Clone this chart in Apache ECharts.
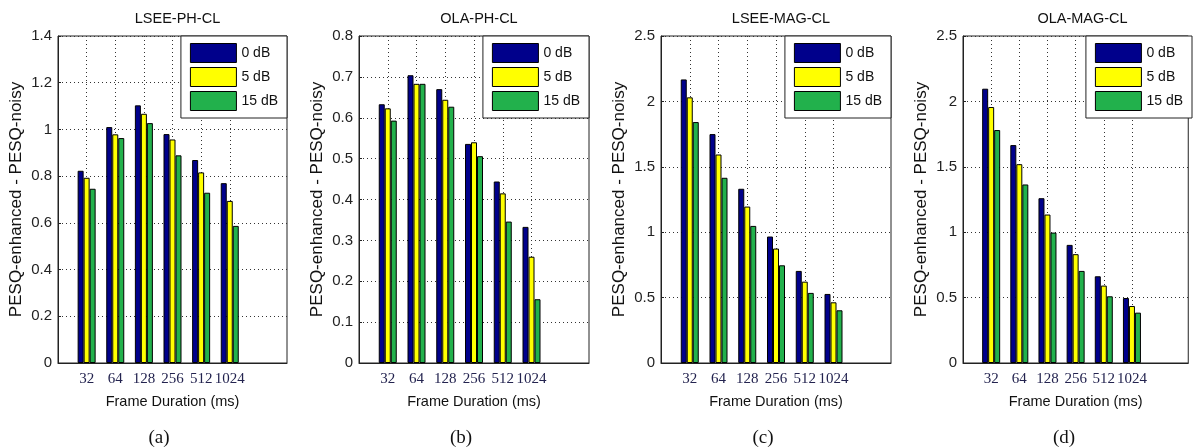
<!DOCTYPE html>
<html>
<head>
<meta charset="utf-8">
<script src="https://cdn.jsdelivr.net/npm/echarts@6/dist/echarts.min.js"></script>
<style>
  html, body { margin: 0; padding: 0; background: #fff; }
  #chart { width: 1195px; height: 447px; }
</style>
</head>
<body>
<div id="chart"></div>
<script>
// frame durations (ms) and noise levels
const frameLabels = ['32', '64', '128', '256', '512', '1024'];
const noiseNames = ['0 dB', '5 dB', '15 dB'];
const noiseColors = ['#00008b', '#ffff00', '#22b14c'];

// (a) LSEE-PH-CL
const lseePh0 = [0.823, 1.010, 1.103, 0.980, 0.869, 0.770];
const lseePh5 = [0.793, 0.979, 1.067, 0.957, 0.816, 0.694];
const lseePh15 = [0.746, 0.963, 1.027, 0.889, 0.729, 0.587];

// (b) OLA-PH-CL
const olaPh0 = [0.633, 0.704, 0.670, 0.536, 0.444, 0.333];
const olaPh5 = [0.623, 0.683, 0.644, 0.540, 0.415, 0.260];
const olaPh15 = [0.593, 0.683, 0.627, 0.506, 0.346, 0.156];

// (c) LSEE-MAG-CL
const lseeMag0 = [2.168, 1.750, 1.332, 0.967, 0.704, 0.528];
const lseeMag5 = [2.031, 1.594, 1.196, 0.875, 0.622, 0.464];
const lseeMag15 = [1.842, 1.416, 1.048, 0.747, 0.536, 0.403];

// (d) OLA-MAG-CL
const olaMag0 = [2.097, 1.666, 1.260, 0.903, 0.663, 0.497];
const olaMag5 = [1.957, 1.520, 1.135, 0.832, 0.592, 0.436];
const olaMag15 = [1.781, 1.365, 0.997, 0.704, 0.510, 0.385];

const panels = [
  { title: 'LSEE-PH-CL', tag: '(a)', left: 58, width: 229, tagX: 154, max: 1.4, interval: 0.2, data: [lseePh0, lseePh5, lseePh15] },
  { title: 'OLA-PH-CL', tag: '(b)', left: 359, width: 230, tagX: 456, max: 0.8, interval: 0.1, data: [olaPh0, olaPh5, olaPh15] },
  { title: 'LSEE-MAG-CL', tag: '(c)', left: 661, width: 230, tagX: 758, max: 2.5, interval: 0.5, data: [lseeMag0, lseeMag5, lseeMag15] },
  { title: 'OLA-MAG-CL', tag: '(d)', left: 963, width: 229, tagX: 1059, max: 2.5, interval: 0.5, data: [olaMag0, olaMag5, olaMag15] }
];

const W = 1195;
const gridTop = 36;
const gridBottom = 84;
// the x range runs 0..8 with the groups sitting at 1..6
const axisCats = [''].concat(frameLabels, [' ', '  ']);
const pad = arr => ['-'].concat(arr, ['-', '-']);
const dotted = [1, 3];

const chart = echarts.init(document.getElementById('chart'));

let grid = [], xAxis = [], yAxis = [], series = [], title = [], legend = [];
panels.forEach((p, i) => {
  grid.push({
    left: p.left, width: p.width, top: gridTop, bottom: gridBottom,
    show: true, borderColor: '#222', borderWidth: 1, backgroundColor: '#fff'
  });
  xAxis.push({
    type: 'category', gridIndex: i, data: axisCats, boundaryGap: false,
    name: 'Frame Duration (ms)', nameLocation: 'middle', nameGap: 31,
    nameTextStyle: { fontFamily: 'Liberation Sans', fontSize: 14.5, color: '#111' },
    axisLine: { lineStyle: { color: '#222' } },
    axisTick: { show: false },
    axisLabel: { interval: 0, margin: 9, fontFamily: 'Liberation Serif', fontSize: 15, color: '#23234f' },
    splitLine: { show: true, interval: idx => idx >= 1 && idx <= 6, lineStyle: { color: '#333', type: dotted } }
  });
  yAxis.push({
    type: 'value', gridIndex: i, min: 0, max: p.max, interval: p.interval,
    name: 'PESQ-enhanced - PESQ-noisy', nameLocation: 'middle', nameGap: 33,
    nameTextStyle: { fontFamily: 'Liberation Sans', fontSize: 17, color: '#111' },
    axisLine: { show: true, lineStyle: { color: '#222' } },
    axisTick: { show: true, inside: true, length: 3, lineStyle: { color: '#222' } },
    axisLabel: { margin: 6, fontFamily: 'Liberation Sans', fontSize: 15, color: '#222' },
    splitLine: { show: true, lineStyle: { color: '#333', type: dotted } }
  });
  title.push({
    text: p.title, left: p.left + p.width / 2, top: 6, textAlign: 'center',
    textStyle: { fontFamily: 'Liberation Sans', fontSize: 14.5, fontWeight: 'normal', color: '#111' }
  });
  title.push({
    text: p.tag, left: p.tagX, top: 424, textAlign: 'center',
    textStyle: { fontFamily: 'Liberation Serif', fontSize: 19, fontWeight: 'normal', color: '#111' }
  });
  legend.push({
    data: noiseNames, orient: 'vertical', right: W - (p.left + p.width), top: gridTop,
    icon: 'rect', itemWidth: 46, itemHeight: 19, itemGap: 4, itemTextGap: 5,
    padding: [7, 9, 7, 9], backgroundColor: '#fff', borderColor: '#222', borderWidth: 1,
    selectedMode: false,
    itemStyle: { borderColor: '#000', borderWidth: 1 },
    textStyle: { fontFamily: 'Liberation Sans', fontSize: 14, color: '#111' }
  });
  p.data.forEach((vals, j) => {
    series.push({
      type: 'bar', name: noiseNames[j], xAxisIndex: i, yAxisIndex: i,
      data: pad(vals), barWidth: 6, barGap: '0%',
      itemStyle: { color: noiseColors[j], borderColor: '#000', borderWidth: 1 },
      emphasis: { disabled: true }
    });
  });
});

chart.setOption({
  animation: false,
  backgroundColor: '#fff',
  title: title,
  legend: legend,
  grid: grid,
  xAxis: xAxis,
  yAxis: yAxis,
  series: series
});
</script>
</body>
</html>
